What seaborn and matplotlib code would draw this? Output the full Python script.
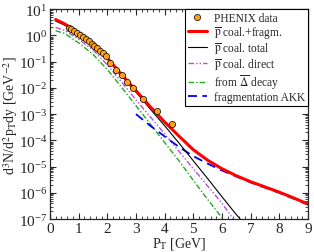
import numpy as np
import matplotlib
matplotlib.use("Agg")
import matplotlib.pyplot as plt
import seaborn as sns
from matplotlib.ticker import MultipleLocator, LogLocator, NullFormatter
from matplotlib.lines import Line2D

# PHENIX antiproton data (pT in GeV)
data_pt = [0.65, 0.75, 0.85, 0.95, 1.05, 1.15, 1.25, 1.35, 1.45, 1.55, 1.65,
           1.75, 1.85, 1.95, 2.1, 2.3, 2.5, 2.7, 2.9, 3.25, 3.75, 4.25]
data_y = [1.95, 1.74, 1.48, 1.26, 1.07, 0.89, 0.74, 0.60, 0.49, 0.40, 0.32,
          0.26, 0.21, 0.166, 0.089, 0.050, 0.030, 0.0166, 0.010, 0.0037,
          0.00135, 0.00042]

# pbar coal.+fragm.
red_pt = [0.2, 0.5, 0.7, 1.0, 1.4, 1.75, 2.0, 2.5, 3.0, 3.5, 4.0, 4.5, 5.0,
          5.5, 6.0, 6.5, 7.0, 7.5, 8.0, 8.5, 9.0]
red_y = [4.0, 2.8, 2.05, 1.17, 0.54, 0.26, 0.138, 0.032, 7.9e-3, 1.9e-3,
         5.0e-4, 1.45e-4, 4.4e-5, 1.75e-5, 8.3e-6, 4.5e-6, 2.65e-6, 1.68e-6,
         1.06e-6, 6.4e-7, 3.75e-7]

# pbar coal. total
tot_pt = [0.2, 0.5, 0.7, 1.0, 1.4, 1.75, 2.0, 2.5, 3.0, 3.5, 4.0, 4.5, 5.0,
          5.5, 6.0, 6.5, 6.8]
tot_y = [3.5, 2.5, 1.9, 1.12, 0.51, 0.24, 0.129, 0.029, 6.9e-3, 1.55e-3,
         3.6e-4, 7.9e-5, 1.66e-5, 3.5e-6, 7.1e-7, 1.48e-7, 6.3e-8]

# pbar coal. direct
dir_pt = [0.2, 0.5, 1.0, 1.5, 2.0, 2.5, 3.0, 3.5, 4.0, 4.5, 5.0, 5.5, 6.0, 6.5]
dir_y = [2.0, 1.58, 0.71, 0.28, 0.076, 0.0166, 3.5e-3, 7.9e-4, 1.78e-4,
         3.8e-5, 8.3e-6, 1.82e-6, 4.0e-7, 7.0e-8]

# from Delta-bar decay
dec_pt = [0.2, 0.5, 1.0, 1.5, 2.0, 2.5, 3.0, 3.5, 4.0, 4.5, 5.0, 5.5, 6.0, 6.3]
dec_y = [1.5, 1.2, 0.52, 0.19, 0.05, 0.0105, 2.1e-3, 4.2e-4, 8.3e-5,
         1.66e-5, 3.0e-6, 5.6e-7, 1.12e-7, 4.5e-8]

# fragmentation AKK
frag_pt = [3.0, 3.5, 4.0, 4.5, 5.0, 5.5, 6.0, 6.5, 7.0, 7.5, 8.0, 8.5, 9.0]
frag_y = [1.0e-3, 3.6e-4, 1.41e-4, 5.6e-5, 2.5e-5, 1.3e-5, 7.1e-6, 4.2e-6,
          2.5e-6, 1.58e-6, 1.0e-6, 6.0e-7, 3.55e-7]

sns.set_style("ticks")
plt.rcParams['font.family'] = ['Liberation Serif', 'DejaVu Serif']
plt.rcParams['mathtext.fontset'] = 'stix'

fig = plt.figure(figsize=(3.14, 2.53), dpi=100)
ax = fig.add_axes([0.159, 0.130, 0.822, 0.830])

sty_dir = (0, (4, 1.5, 1, 1.5, 1, 1.5))
sty_dec = (0, (4, 1.5, 1, 1.5))
sty_frag = (0, (5, 3))

sns.lineplot(x=dec_pt, y=dec_y, ax=ax, color='#22aa22', lw=1.0,
             linestyle=sty_dec, sort=False)
sns.lineplot(x=dir_pt, y=dir_y, ax=ax, color='#b050e0', lw=1.0,
             linestyle=sty_dir, sort=False)
sns.lineplot(x=frag_pt, y=frag_y, ax=ax, color='#0000ee', lw=1.3,
             linestyle=sty_frag, sort=False)
sns.lineplot(x=tot_pt, y=tot_y, ax=ax, color='black', lw=0.8, sort=False)
sns.lineplot(x=red_pt, y=red_y, ax=ax, color='#ff0000', lw=2.2, sort=False)
sns.scatterplot(x=data_pt, y=data_y, ax=ax, color='#ff9f1a', s=20,
                edgecolor='black', linewidth=0.5, zorder=5)

ax.set_yscale('log')
ax.set_xlim(0, 9)
ax.set_ylim(1e-7, 10)
ax.xaxis.set_major_locator(MultipleLocator(1))
ax.xaxis.set_minor_locator(MultipleLocator(0.2))
ax.yaxis.set_major_locator(LogLocator(base=10, numticks=20))
ax.yaxis.set_minor_locator(LogLocator(base=10, subs=np.arange(2, 10), numticks=20))
ax.yaxis.set_minor_formatter(NullFormatter())
ax.tick_params(which='both', direction='in', top=True, right=True,
               labelsize=11, pad=2)
ax.tick_params(which='major', length=4, width=0.8)
ax.tick_params(which='minor', length=2, width=0.6)
for s in ax.spines.values():
    s.set_linewidth(0.9)

ax.set_xlabel(r'P$_\mathrm{T}$ [GeV]', fontsize=10, labelpad=0)
ax.set_ylabel(r'd$^3$N/d$^2$p$_\mathrm{T}$dy [GeV$^{-2}$]', fontsize=10,
              labelpad=-1)

handles = [
    Line2D([], [], marker='o', ls='none', color='#ff9f1a', mec='black',
           mew=0.5, ms=4.5),
    Line2D([], [], color='#ff0000', lw=2.2),
    Line2D([], [], color='black', lw=0.8),
    Line2D([], [], color='#b050e0', lw=1.0, ls=sty_dir),
    Line2D([], [], color='#22aa22', lw=1.0, ls=sty_dec),
    Line2D([], [], color='#0000ee', lw=1.3, ls=sty_frag),
]
labels = ['PHENIX data',
          r'$\overline{\mathrm{p}}$ coal.+fragm.',
          r'$\overline{\mathrm{p}}$ coal. total',
          r'$\overline{\mathrm{p}}$ coal. direct',
          r'from $\overline{\Delta}$ decay',
          'fragmentation AKK']
leg = ax.legend(handles, labels, loc='upper right', fontsize=8.3,
                frameon=True, fancybox=False, framealpha=1,
                edgecolor='black', borderaxespad=0, handlelength=1.7,
                handletextpad=0.6, labelspacing=0.02, borderpad=0.25)
leg.get_frame().set_linewidth(0.8)

fig.savefig('out.png', dpi=100)
